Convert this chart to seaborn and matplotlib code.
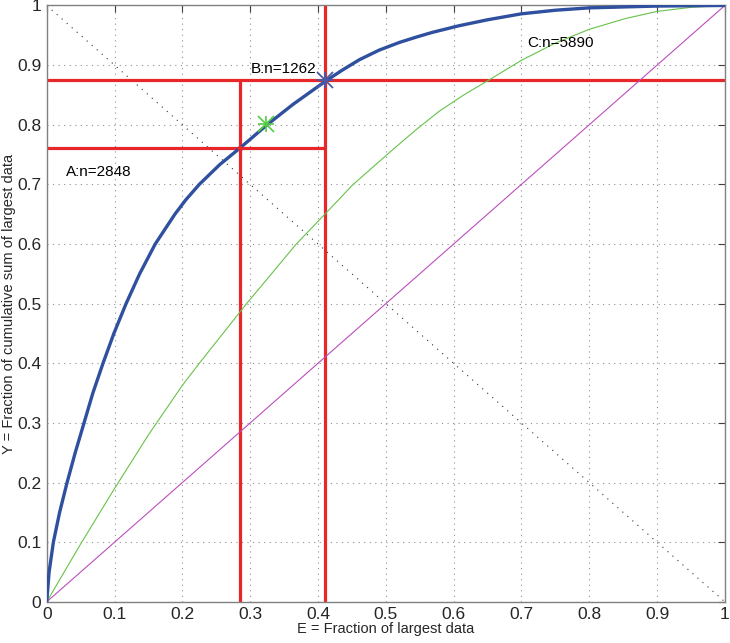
import numpy as np
import pandas as pd
import seaborn as sns
import matplotlib
matplotlib.use("Agg")
import matplotlib.pyplot as plt

# Curvas
blue_x = [0, 0.0035, 0.0098, 0.019, 0.03, 0.042, 0.055, 0.068, 0.083, 0.099, 0.117,
          0.137, 0.16, 0.189, 0.205, 0.225, 0.255, 0.285, 0.325, 0.363, 0.411,
          0.435, 0.461, 0.49, 0.52, 0.545, 0.569, 0.608, 0.65, 0.7, 0.75, 0.8,
          0.9, 1.0]
blue_y = [0, 0.05, 0.1, 0.15, 0.2, 0.25, 0.3, 0.35, 0.4, 0.45, 0.5,
          0.55, 0.6, 0.65, 0.674, 0.7, 0.733, 0.761, 0.8, 0.834, 0.873,
          0.891, 0.909, 0.925, 0.938, 0.947, 0.955, 0.966, 0.976, 0.986, 0.992, 0.996,
          0.999, 1.0]

green_x = [0, 0.05, 0.1, 0.15, 0.2, 0.225, 0.294, 0.368, 0.411, 0.451, 0.51,
           0.545, 0.578, 0.615, 0.652, 0.7, 0.75, 0.8, 0.853, 0.9, 0.951, 1.0]
green_y = [0, 0.097, 0.19, 0.28, 0.363, 0.4, 0.499, 0.6, 0.651, 0.699, 0.758,
           0.792, 0.822, 0.85, 0.875, 0.908, 0.937, 0.96, 0.978, 0.99, 0.997, 1.0]

diag_x = [0, 1]
diag_y = [0, 1]
anti_y = [1, 0]

# Puntos A y B (cortes rojos)
point_a = (0.285, 0.761)
point_b = (0.411, 0.875)
green_star = (0.323, 0.801)

labels = ["A:n=2848", "B:n=1262", "C:n=5890"]
label_x = [0.029, 0.301, 0.708]
label_y = [0.72, 0.893, 0.937]

ticks = [0, 0.1, 0.2, 0.3, 0.4, 0.5, 0.6, 0.7, 0.8, 0.9, 1]
tick_labels = ["0", "0.1", "0.2", "0.3", "0.4", "0.5", "0.6", "0.7", "0.8", "0.9", "1"]

sns.set_style("white")
plt.rcParams["font.family"] = ["Liberation Sans", "DejaVu Sans"]

fig = plt.figure(figsize=(7.3, 6.43), dpi=100)
ax = fig.add_axes([0.064, 0.064, 0.929, 0.9275])

blue = "#2f4f9f"
green = "#66c24a"
magenta = "#bb4fbb"
red = "#e8272b"

# Lineas rojas
ax.plot([point_a[0], point_a[0]], [0, point_b[1]], color=red, lw=2.3, zorder=2)
ax.plot([0, point_b[0]], [point_a[1], point_a[1]], color=red, lw=2.3, zorder=2)
ax.plot([point_b[0], point_b[0]], [0, 1], color=red, lw=2.3, zorder=2)
ax.plot([0, 1], [point_b[1], point_b[1]], color=red, lw=2.3, zorder=2)

sns.lineplot(x=diag_x, y=anti_y, ax=ax, color="#333333", lw=0.8,
             linestyle=(0, (1, 5)), sort=False, estimator=None, zorder=1)
sns.lineplot(x=diag_x, y=diag_y, ax=ax, color=magenta, lw=0.8,
             sort=False, estimator=None, zorder=3)
sns.lineplot(x=green_x, y=green_y, ax=ax, color=green, lw=0.8,
             sort=False, estimator=None, zorder=3)
sns.lineplot(x=blue_x, y=blue_y, ax=ax, color=blue, lw=2.4,
             sort=False, estimator=None, zorder=4)

# asteriscos estilo MATLAB (+ y x superpuestos)
for m in ["+", "x"]:
    ax.plot(*point_b, marker=m, ms=11, color="#4a5aa8", mew=1.3, zorder=5)
    ax.plot(*green_star, marker=m, ms=11, color="#55cc44", mew=1.2, zorder=5)
ax.plot(*point_a, marker="o", ms=3, color=red, zorder=5)

for t, x, y in zip(labels, label_x, label_y):
    ax.text(x, y, t, fontsize=11, va="center", ha="left", color="black")

ax.set_xlim(0, 1)
ax.set_ylim(0, 1)
ax.set_xticks(ticks)
ax.set_xticklabels(tick_labels)
ax.set_yticks(ticks)
ax.set_yticklabels(tick_labels)
ax.grid(True, color="#909090", linestyle=(0, (1, 4)), lw=0.8)
for s in ax.spines.values():
    s.set_color("#808080")
    s.set_linewidth(1.0)
ax.tick_params(direction="in", length=5, width=0.8, color="#404040",
               top=True, right=True, labelsize=12.5, pad=4)
ax.set_xlabel("E = Fraction of largest data", fontsize=10.5, labelpad=0)
ax.set_ylabel("Y = Fraction of cumulative sum of largest data", fontsize=10.5)
ax.yaxis.set_label_coords(-0.046, 0.5)

fig.savefig("out.png", dpi=100)
